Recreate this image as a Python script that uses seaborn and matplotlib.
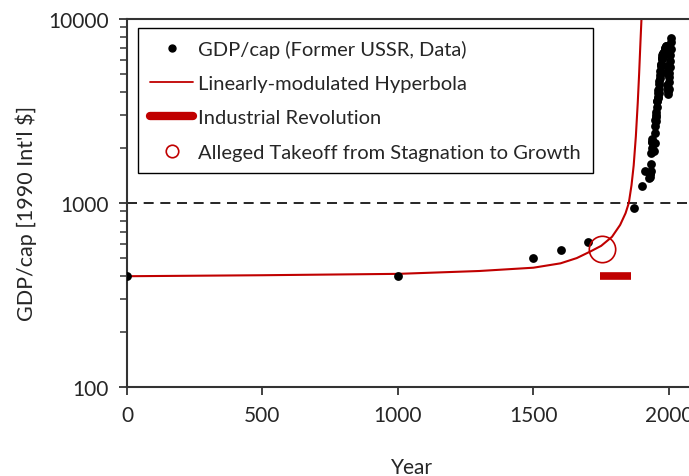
import numpy as np
import pandas as pd
import seaborn as sns
import matplotlib.pyplot as plt
from matplotlib.lines import Line2D

# GDP per capita, former USSR
data_years = [0, 1000, 1500, 1600, 1700, 1870, 1900, 1913,
              1928, 1929, 1930, 1931, 1932, 1933, 1934, 1935, 1936, 1937, 1938, 1939, 1940,
              1946, 1947, 1948, 1949, 1950, 1951, 1952, 1953, 1954, 1955, 1956, 1957, 1958,
              1959, 1960, 1961, 1962, 1963, 1964, 1965, 1966, 1967, 1968, 1969, 1970, 1971,
              1972, 1973, 1974, 1975, 1976, 1977, 1978, 1979, 1980, 1981, 1982, 1983, 1984,
              1985, 1986, 1987, 1988, 1989, 1990, 1991, 1992, 1993, 1994, 1995, 1996, 1997,
              1998, 1999, 2000, 2001, 2002, 2003, 2004, 2005, 2006, 2007, 2008]
data_gdp = [400, 400, 500, 553, 611, 943, 1237, 1488,
            1370, 1386, 1448, 1462, 1439, 1493, 1630, 1864, 1991, 2156, 2150, 2237, 2144,
            1913, 2126, 2402, 2623, 2841, 2806, 2937, 3013, 3106, 3313, 3566, 3576, 3777,
            3723, 3945, 4091, 4140, 3985, 4439, 4626, 4806, 4955, 5202, 5180, 5575, 5667,
            5643, 6059, 6176, 6136, 6363, 6456, 6559, 6476, 6427, 6405, 6502, 6621, 6622,
            6671, 6945, 6939, 7157, 7112, 6894, 6459, 5527, 5063, 4396, 4222, 4061, 4113,
            3921, 4144, 4556, 4815, 5060, 5459, 5900, 6339, 6877, 7517, 7904]

# linearly-modulated hyperbola
curve_years = [0, 500, 1000, 1300, 1500, 1600, 1660, 1710, 1750, 1790, 1820, 1840,
               1852, 1862, 1870, 1878, 1885, 1890, 1895, 1900]
curve_gdp = [400, 405, 412, 427, 445, 470, 502, 545, 585, 655, 760, 880,
             1000, 1250, 1600, 2300, 3500, 5000, 7500, 11000]

indrev_years = [1745, 1860]
indrev_level = 400
takeoff_year = 1752
takeoff_gdp = 565

RED = "#C00000"

sns.set_style("ticks")
plt.rcParams['font.family'] = ['Lato', 'DejaVu Sans']

fig = plt.figure(figsize=(6.89, 4.77), dpi=100)
ax = fig.add_axes([127 / 689, 89 / 477, 569 / 689, 368 / 477])

df_data = pd.DataFrame({"year": data_years, "gdp": data_gdp})
df_curve = pd.DataFrame({"year": curve_years, "gdp": curve_gdp})

ax.axhline(1000, color="black", lw=1.2, ls=(0, (6, 4)), zorder=1)
sns.lineplot(data=df_curve, x="year", y="gdp", ax=ax, color=RED, lw=1.5, sort=True, zorder=2)
sns.scatterplot(data=df_data, x="year", y="gdp", ax=ax, color="black", s=40,
                edgecolor="black", linewidth=0, zorder=3)
ax.plot(indrev_years, [indrev_level] * 2, color=RED, lw=5.5, solid_capstyle="butt", zorder=2)
ax.plot([takeoff_year], [takeoff_gdp], marker="o", ms=19, mfc="none", mec=RED, mew=1.2, zorder=4)

ax.set_yscale("log")
ax.set_ylim(100, 10000)
ax.set_xlim(0, 2100)
ax.set_xticks([0, 500, 1000, 1500, 2000])
ax.set_yticks([100, 1000, 10000])
ax.set_yticklabels(["100", "1000", "10000"])
ax.tick_params(axis="both", which="major", direction="out", length=6, width=1.3,
               color="#333333", labelsize=15, pad=7)
ax.tick_params(axis="y", which="minor", direction="out", length=5, width=1.1, color="#333333")
ax.tick_params(axis="y", which="minor", labelleft=False)
for s in ax.spines.values():
    s.set_linewidth(1.5)
    s.set_color("#333333")

ax.set_xlabel("Year", fontsize=15, labelpad=23)
ax.set_ylabel("GDP/cap [1990 Int'l $]", fontsize=15.5)
ax.yaxis.set_label_coords(-0.158, 0.473)

handles = [
    Line2D([], [], ls="none", marker="o", ms=5, color="black"),
    Line2D([], [], color=RED, lw=1.3),
    Line2D([], [], color=RED, lw=6),
    Line2D([], [], ls="none", marker="o", ms=9, mfc="none", mec=RED, mew=1.2),
]
labels = ["GDP/cap (Former USSR, Data)", "Linearly-modulated Hyperbola",
          "Industrial Revolution", "Alleged Takeoff from Stagnation to Growth"]
leg = ax.legend(handles, labels, loc="upper left", bbox_to_anchor=(0.019, 0.976),
                borderaxespad=0, fancybox=False, edgecolor="black", framealpha=1,
                handlelength=2.15, handletextpad=0.25, labelspacing=0.85, borderpad=0.6,
                fontsize=14.5)
leg.get_frame().set_linewidth(1.0)

fig.savefig("out.png", dpi=100)
